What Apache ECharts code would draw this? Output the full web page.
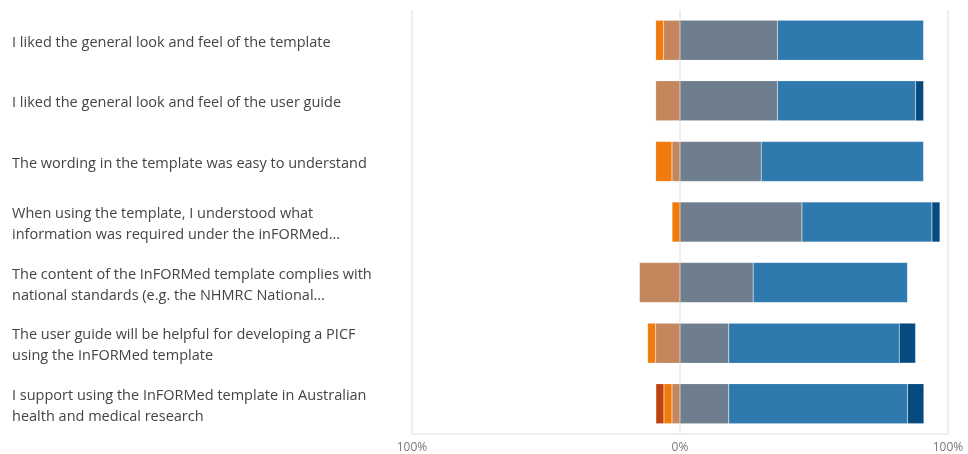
<!DOCTYPE html>
<html>
<head>
<meta charset="utf-8">
<script src="https://cdn.jsdelivr.net/npm/echarts@6/dist/echarts.min.js"></script>
<style>
html,body{margin:0;padding:0;background:#fff;}
#chart{width:968px;height:454px;}
</style>
</head>
<body>
<div id="chart"></div>
<script>
// Statements (top to bottom)
const categories = [
  "I liked the general look and feel of the template",
  "I liked the general look and feel of the user guide",
  "The wording in the template was easy to understand",
  "When using the template, I understood what\ninformation was required under the inFORMed\u2026",
  "The content of the InFORMed template complies with\nnational standards (e.g. the NHMRC National\u2026",
  "The user guide will be helpful for developing a PICF\nusing the InFORMed template",
  "I support using the InFORMed template in Australian\nhealth and medical research"
];
// Response shares (%) — negative side drawn leftwards from 0
const strongDisagree = [0, 0, 0, 0, 0, 0, 3.0];
const disagree       = [3.0, 0, 6.1, 3.0, 0, 3.0, 3.0];
const somewhatDis    = [6.1, 9.1, 3.0, 0, 15.2, 9.1, 3.0];
const somewhatAgree  = [36.4, 36.4, 30.3, 45.5, 27.3, 18.2, 18.2];
const agree          = [54.5, 51.5, 60.6, 48.5, 57.6, 63.6, 66.7];
const strongAgree    = [0, 3.0, 0, 3.0, 0, 6.1, 6.1];
const tickLabels = ["100%", "0%", "100%"];

const neg = a => a.map(v => -v);
const seg = (name, data, color) => ({
  name, data, type: 'bar', stack: 'total', barCategoryGap: '34%',
  itemStyle: { color, borderColor: 'rgba(255,255,255,0.25)', borderWidth: 0.5 }
});

const chart = echarts.init(document.getElementById('chart'));
chart.setOption({
  animation: false,
  grid: { left: 412, right: 20, top: 10, bottom: 19, show: false, containLabel: false },
  xAxis: {
    type: 'value', min: -100, max: 100, interval: 100,
    axisLine: { show: true, onZero: false, lineStyle: { color: '#ececec', width: 1.5 } },
    axisTick: { show: false },
    splitLine: { show: true, lineStyle: { color: '#e8e8e8', width: 1.5 } },
    axisLabel: { color: '#777', fontSize: 12, fontFamily: 'Open Sans', margin: 8,
      formatter: v => tickLabels[Math.round((v + 100) / 100)] }
  },
  yAxis: {
    type: 'category', inverse: true, data: categories,
    axisLine: { show: false }, axisTick: { show: false }, splitLine: { show: false },
    axisLabel: { align: 'left', margin: 400, color: '#444', fontSize: 14.5,
      fontFamily: 'Open Sans', lineHeight: 21,
      formatter: v => v.split('\n').map(s => '{a|' + s + '}').join('\n'),
      rich: { a: { color: '#444', fontSize: 14.5, fontFamily: 'Open Sans', lineHeight: 21, padding: [5, 0, 0, 0] } } }
  },
  series: [
    seg('Somewhat disagree', neg(somewhatDis), '#c4865c'),
    seg('Disagree', neg(disagree), '#f07b0c'),
    seg('Strongly disagree', neg(strongDisagree), '#c0420e'),
    seg('Somewhat agree', somewhatAgree, '#6e7e8e'),
    seg('Agree', agree, '#2e79ae'),
    seg('Strongly agree', strongAgree, '#074a80')
  ]
});
</script>
</body>
</html>
